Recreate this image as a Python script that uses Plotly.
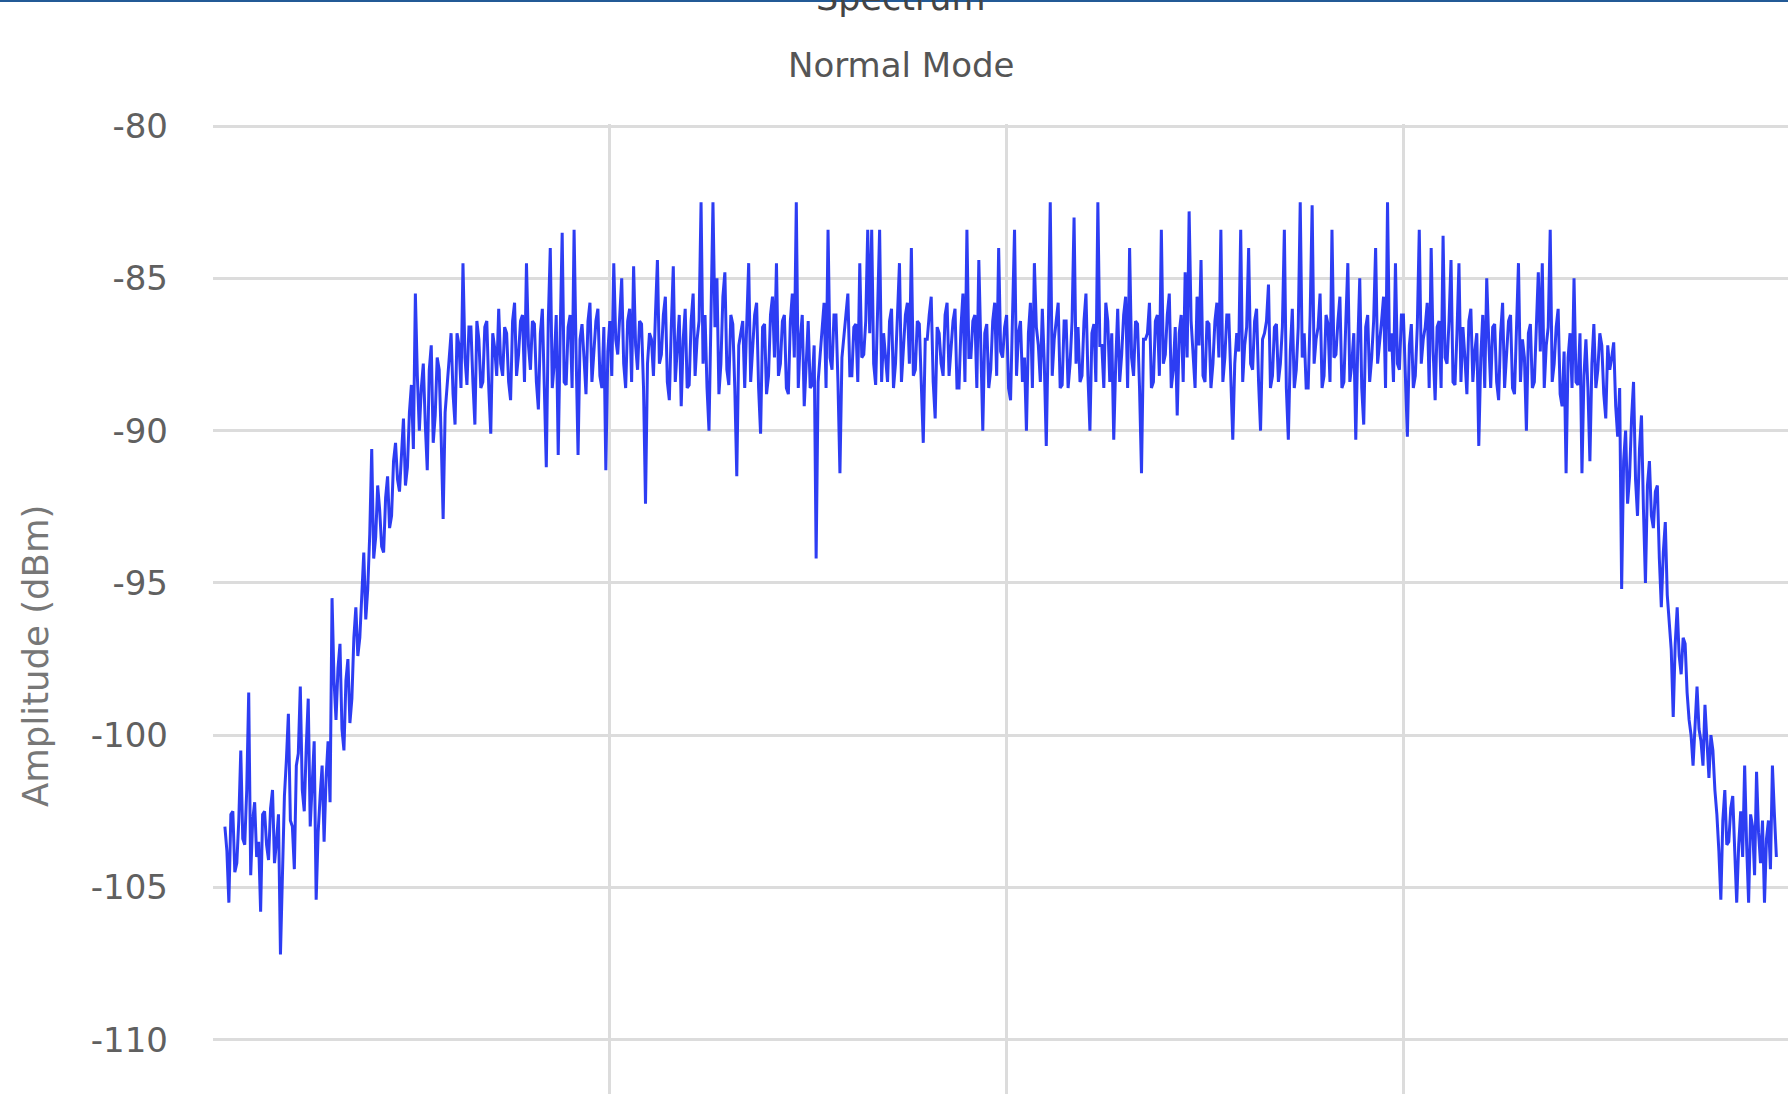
import plotly.graph_objects as go

# Spectrum samples (dBm), one per frequency bin (peaks of each bin)
amplitude_dbm = [
    -103.0, -105.5, -102.5, -104.2, -100.5, -103.6, -98.6, -102.8, -104.0, -105.8,
    -102.5, -104.1, -101.8, -103.5, -107.2, -102.0, -99.3, -103.0, -101.0, -98.4,
    -102.5, -98.8, -101.8, -105.4, -102.0, -103.5, -100.2, -95.5, -99.5, -97.0,
    -100.5, -97.5, -98.8, -95.8, -96.8, -94.0, -95.2, -90.6, -93.5, -92.6,
    -94.0, -91.5, -92.8, -90.4, -92.0, -89.6, -91.2, -88.5, -85.5, -90.0,
    -87.8, -91.3, -87.2, -89.5, -88.0, -92.9, -88.6, -86.8, -89.8, -87.2,
    -84.5, -88.5, -86.6, -89.8, -87.0, -88.4, -86.4, -90.1, -87.3, -86.0,
    -88.2, -86.8, -89.0, -85.8, -87.5, -86.2, -84.5, -88.0, -86.5, -89.3,
    -86.0, -91.2, -84.0, -87.8, -90.8, -83.5, -88.5, -86.2, -83.4, -90.8,
    -86.5, -88.8, -85.8, -87.5, -86.0, -88.6, -91.3, -86.4, -84.5, -87.5,
    -85.0, -88.6, -86.0, -84.6, -88.0, -86.5, -92.4, -86.8, -88.2, -84.4,
    -87.5, -85.6, -89.0, -84.6, -87.2, -89.2, -86.0, -88.5, -85.5, -87.0,
    -82.5, -86.2, -90.0, -82.5, -85.0, -87.8, -84.8, -88.5, -86.5, -91.5,
    -86.8, -88.6, -84.5, -87.2, -85.8, -90.1, -86.5, -88.2, -85.6, -84.5,
    -87.8, -86.2, -88.8, -85.5, -82.5, -87.0, -89.2, -86.4, -88.5, -94.2,
    -87.5, -85.8, -83.4, -88.0, -86.2, -91.4, -86.8, -85.5, -88.2, -86.5,
    -84.5, -87.5, -83.4, -83.4, -88.5, -83.4, -86.8, -88.4, -86.0, -87.8,
    -84.5, -87.2, -85.8, -84.0, -88.0, -86.5, -90.4, -87.0, -85.6, -89.6,
    -86.8, -88.2, -85.8, -87.4, -86.0, -88.6, -85.5, -83.4, -87.6, -86.2,
    -84.4, -90.0, -86.5, -88.0, -85.8, -84.0, -87.6, -86.2, -89.0, -83.4,
    -86.8, -88.4, -90.0, -85.8, -84.5, -87.2, -86.0, -90.5, -82.5, -87.0,
    -85.8, -88.5, -86.4, -87.8, -83.0, -86.6, -88.2, -85.5, -90.0, -86.5,
    -82.5, -87.2, -85.8, -88.4, -90.3, -86.0, -87.5, -85.6, -84.0, -88.2,
    -86.5, -91.4, -87.0, -85.8, -88.4, -86.2, -83.4, -87.5, -85.5, -88.0,
    -89.5, -86.2, -84.8, -82.8, -87.4, -85.6, -84.4, -88.4, -86.5, -87.8,
    -85.8, -83.4, -87.6, -86.2, -90.3, -86.8, -83.4, -87.2, -84.0, -88.0,
    -86.0, -90.0, -86.8, -85.2, -88.2, -86.5, -87.8, -83.4, -90.3, -86.0,
    -88.0, -82.5, -86.8, -88.6, -82.6, -87.0, -85.5, -88.2, -86.5, -83.4,
    -87.5, -85.6, -88.4, -84.5, -87.8, -90.3, -85.0, -89.8, -86.2, -87.6,
    -84.0, -87.2, -85.6, -82.5, -86.8, -84.5, -88.0, -86.2, -90.2, -86.5,
    -88.2, -83.4, -87.0, -85.8, -84.0, -89.0, -86.4, -83.6, -87.8, -84.4,
    -88.5, -84.5, -86.6, -88.8, -86.0, -87.4, -90.5, -86.2, -85.0, -88.6,
    -86.5, -89.0, -85.8, -87.6, -86.2, -88.8, -84.5, -87.0, -90.0, -86.5,
    -88.4, -84.8, -84.5, -87.2, -83.4, -87.8, -86.0, -89.2, -91.4, -86.8,
    -85.0, -88.5, -91.4, -87.0, -91.0, -86.5, -88.0, -87.2, -89.6, -88.0,
    -87.1, -90.2, -95.2, -90.0, -91.5, -88.4, -92.8, -89.5, -95.0, -91.0,
    -93.2, -91.8, -95.8, -93.0, -96.5, -99.4, -95.8, -98.0, -97.0, -99.5,
    -101.0, -98.4, -100.2, -99.0, -101.4, -100.5, -102.6, -105.4, -101.8, -103.5,
    -102.0, -105.5, -102.5, -101.0, -105.5, -103.0, -101.2, -104.2, -105.5, -102.8,
    -101.0, -104.0,
]

# Half-bin samples between consecutive bins (core of the noise band)
amplitude_mid_dbm = [
    -103.8, -102.6, -104.5, -102.8, -103.4, -101.8, -104.6, -102.2, -103.5, -102.6,
    -103.6, -102.4, -104.2, -102.6, -104.8, -100.8, -102.8, -104.4, -100.6, -101.8,
    -100.4, -103.0, -100.2, -103.2, -101.0, -101.4, -102.2, -98.2, -97.8, -99.8,
    -98.2, -99.6, -96.8, -97.4, -95.4, -96.2, -93.4, -94.2, -91.8, -93.8,
    -92.2, -93.2, -91.0, -91.6, -90.8, -91.8, -89.4, -90.6, -88.2, -88.6,
    -89.8, -88.0, -90.4, -87.6, -90.2, -89.4, -87.6, -88.8, -86.8, -88.6,
    -87.6, -86.6, -88.4, -86.4, -88.6, -86.6, -88.6, -86.8, -88.2, -87.8,
    -86.6, -88.4, -86.4, -88.2, -86.4, -88.4, -87.2, -86.4, -88.4, -86.8,
    -88.6, -86.4, -88.6, -86.2, -86.8, -88.4, -86.6, -88.6, -87.4, -87.0,
    -87.6, -86.4, -88.4, -86.4, -88.2, -86.6, -87.4, -88.2, -87.0, -86.2,
    -87.8, -86.4, -88.4, -87.2, -86.4, -88.6, -87.8, -87.0, -86.2, -87.8,
    -86.2, -88.4, -86.6, -88.4, -86.2, -87.0, -88.6, -86.4, -88.2, -86.4,
    -87.8, -88.6, -85.6, -86.6, -88.8, -85.6, -88.0, -86.2, -88.6, -87.2,
    -86.4, -86.8, -88.4, -86.2, -88.6, -86.6, -88.8, -86.2, -87.6, -88.2,
    -86.4, -88.6, -86.4, -87.6, -88.6, -86.2, -87.8, -88.6, -87.2, -88.4,
    -86.4, -88.6, -87.6, -86.2, -88.4, -87.6, -86.2, -88.2, -86.6, -88.4,
    -87.6, -86.4, -86.8, -87.8, -86.0, -88.4, -87.6, -86.4, -88.6, -86.2,
    -88.4, -86.2, -87.8, -88.2, -86.4, -88.6, -87.0, -86.2, -88.4, -86.6,
    -87.8, -86.2, -88.2, -86.4, -88.6, -86.6, -88.4, -87.6, -86.4, -88.6,
    -87.6, -86.8, -88.6, -86.4, -88.2, -87.4, -86.6, -88.6, -86.2, -88.2,
    -86.4, -87.6, -86.8, -88.6, -86.6, -88.4, -87.8, -86.8, -88.2, -86.4,
    -88.6, -86.4, -88.6, -86.4, -87.8, -88.4, -86.4, -88.2, -86.8, -88.4,
    -87.2, -88.6, -86.4, -86.8, -87.8, -88.4, -86.2, -88.6, -87.6, -86.4,
    -88.6, -87.0, -86.8, -88.6, -86.4, -88.2, -87.8, -86.2, -88.6, -86.6,
    -86.8, -88.4, -87.6, -86.4, -88.6, -87.2, -88.2, -86.4, -88.6, -86.4,
    -87.6, -88.4, -86.2, -88.6, -87.8, -87.4, -88.4, -86.6, -87.8, -86.4,
    -88.4, -87.0, -86.4, -88.6, -86.6, -88.4, -86.6, -88.6, -87.4, -88.6,
    -86.6, -87.6, -88.6, -86.2, -87.8, -86.6, -88.6, -86.2, -88.4, -87.6,
    -86.4, -88.6, -86.4, -88.4, -86.8, -87.2, -88.6, -86.6, -88.4, -86.4,
    -87.8, -86.4, -88.6, -87.4, -88.4, -87.8, -86.2, -88.4, -87.2, -88.6,
    -86.6, -87.8, -86.6, -88.6, -87.4, -86.6, -88.6, -87.6, -86.4, -88.4,
    -86.8, -88.4, -87.6, -86.4, -88.4, -86.8, -87.6, -88.6, -87.0, -86.6,
    -88.4, -86.8, -88.6, -86.4, -88.6, -86.6, -88.4, -87.6, -86.8, -88.6,
    -86.6, -87.4, -88.6, -86.6, -88.4, -86.6, -88.8, -87.4, -87.6, -88.6,
    -88.4, -86.8, -88.2, -88.6, -87.8, -88.6, -86.8, -88.8, -87.2, -87.6,
    -89.2, -88.6, -91.0, -92.4, -89.6, -91.6, -90.6, -92.6, -91.8, -92.8,
    -92.0, -94.2, -94.0, -95.4, -97.2, -97.0, -97.4, -96.8, -98.6, -100.0,
    -99.4, -99.8, -101.0, -100.2, -100.0, -101.8, -103.8, -102.8, -103.6, -102.4,
    -103.8, -103.6, -104.0, -103.6, -102.6, -104.6, -103.2, -102.8, -103.4, -104.4,
    -102.6,
]

freq_start = 0.03
freq_step = 0.01

# interleave bin samples and half-bin samples along the frequency axis
frequency, amplitude = [], []
for i, v in enumerate(amplitude_dbm):
    frequency.append(freq_start + freq_step * i)
    amplitude.append(v)
    if i < len(amplitude_mid_dbm):
        frequency.append(freq_start + freq_step * (i + 0.5))
        amplitude.append(amplitude_mid_dbm[i])

y_ticks = [-110, -105, -100, -95, -90, -85, -80]
x_grid = [1, 2, 3]

title_text = "Spectrum"
subtitle_text = "Normal Mode"
y_title = "Amplitude (dBm)"

W, H = 1788, 1094
ML, MT = 213, 124
plot_h = H - MT
plot_w = W - ML

fig = go.Figure()
fig.add_trace(go.Scatter(
    x=frequency, y=amplitude, mode="lines",
    line=dict(color="rgba(22,40,242,0.9)", width=3, shape="linear"),
    hoverinfo="skip", showlegend=False,
))

font_family = "DejaVu Sans"
fig.update_layout(
    width=W, height=H,
    margin=dict(l=ML, r=0, t=MT, b=0, pad=0),
    paper_bgcolor="white", plot_bgcolor="white",
    font=dict(family=font_family, size=34, color="#666666"),
    xaxis=dict(range=[0, plot_w / 396.8], tickvals=x_grid, showticklabels=False,
               showgrid=True, gridcolor="#dcdcdc", gridwidth=3, zeroline=False,
               showline=False, ticks=""),
    yaxis=dict(range=[-80 - plot_h / 30.52, -79.93], tickvals=y_ticks,
               ticktext=[str(v) for v in y_ticks],
               showgrid=True, gridcolor="#dcdcdc", gridwidth=3, zeroline=False,
               showline=False, ticks="", ticklabelstandoff=44,
               tickfont=dict(family=font_family, size=34, color="#606060")),
    annotations=[
        dict(text=title_text, xref="paper", yref="paper",
             x=(901 - ML) / plot_w, y=1 + (MT + 2) / plot_h,
             xanchor="center", yanchor="middle", showarrow=False,
             font=dict(family=font_family, size=35, color="#444444")),
        dict(text=subtitle_text, xref="paper", yref="paper",
             x=(901 - ML) / plot_w, y=1 + (MT - 65) / plot_h,
             xanchor="center", yanchor="middle", showarrow=False,
             font=dict(family=font_family, size=34, color="#555555")),
        dict(text=y_title, xref="paper", yref="paper", textangle=-90,
             x=(35 - ML) / plot_w, y=1 - (656 - MT) / plot_h,
             xanchor="center", yanchor="middle", showarrow=False,
             font=dict(family=font_family, size=35.5, color="#777777")),
    ],
    shapes=[dict(type="rect", xref="paper", yref="paper",
                 x0=-ML / plot_w, x1=1, y0=1 + (MT - 2) / plot_h, y1=1 + (MT + 2) / plot_h,
                 line=dict(width=0), fillcolor="rgb(35,90,150)")],
)

fig.write_html("out.html", config={"displayModeBar": False},
               post_script="document.body.style.margin='0';document.body.style.overflow='hidden';")
